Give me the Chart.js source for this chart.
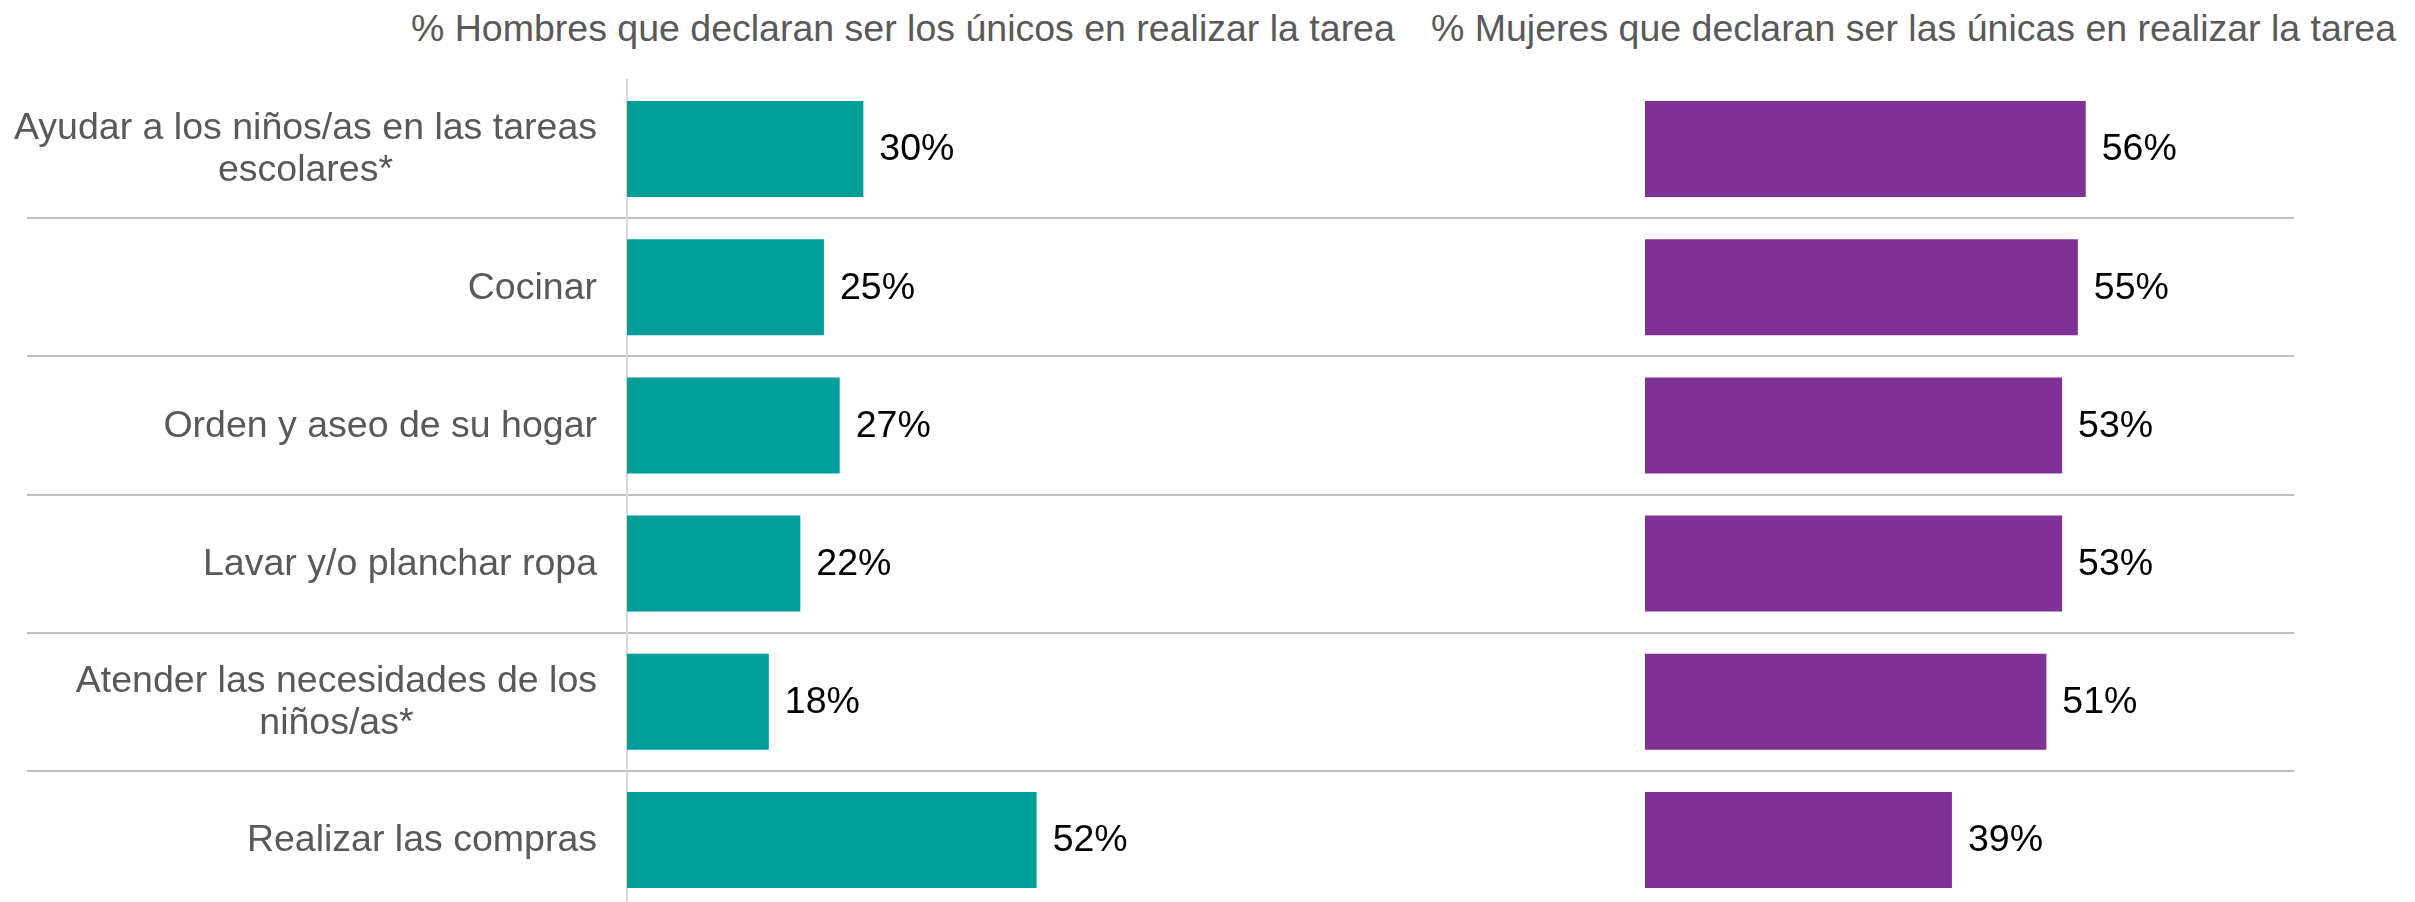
<!DOCTYPE html>
<html lang="es">
<head>
  <meta charset="UTF-8">
  <title>Tareas del hogar realizadas en solitario</title>
  <script src="https://cdn.jsdelivr.net/npm/chart.js"></script>
  <style>
    body {
      margin: 0;
      background: #ffffff;
      overflow: hidden;
      font-family: 'Liberation Sans', Arial, sans-serif;
    }

    .wrap {
      position: relative;
      width: 2415px;
      height: 910px;
    }

    .title {
      position: absolute;
      top: 7px;
      font-size: 37.5px;
      line-height: 42px;
      color: #595959;
      white-space: nowrap;
    }

    canvas {
      position: absolute;
      top: 0;
    }
  </style>
</head>
<body>

  <div class="wrap">
    <div class="title" id="titleMen" style="left: 411px;"></div>
    <div class="title" id="titleWomen" style="left: 1431px;"></div>
    <canvas id="menChart" width="1645" height="910" style="left: 0;"></canvas>
    <canvas id="womenChart" width="770" height="910" style="left: 1645px;"></canvas>
  </div>

  <script>
    const categories = [
      ['Ayudar a los niños/as en las tareas', 'escolares*'],
      'Cocinar',
      'Orden y aseo de su hogar',
      'Lavar y/o planchar ropa',
      ['Atender las necesidades de los', 'niños/as*'],
      'Realizar las compras'
    ];

    const menValues = [30, 25, 27, 22, 18, 52];
    const womenValues = [56, 55, 53, 53, 51, 39];

    const menTitle = '% Hombres que declaran ser los únicos en realizar la tarea';
    const womenTitle = '% Mujeres que declaran ser las únicas en realizar la tarea';

    document.getElementById('titleMen').textContent = menTitle;
    document.getElementById('titleWomen').textContent = womenTitle;

    const FONT = "'Liberation Sans', Arial, sans-serif";
    const sepColor = ctx => ctx.index === 0 ? 'rgba(0,0,0,0)' : '#bfbfbf';

    // value labels just past the end of each bar
    const valueLabels = {
      id: 'valueLabels',
      afterDatasetsDraw(chart) {
        const c = chart.ctx;
        const meta = chart.getDatasetMeta(0);
        const values = chart.data.datasets[0].data;
        c.save();
        c.font = '37.5px ' + FONT;
        c.fillStyle = '#000000';
        c.textAlign = 'left';
        c.textBaseline = 'middle';
        meta.data.forEach((bar, i) => {
          c.fillText(values[i] + '%', bar.x + 16, bar.y + 1);
        });
        c.restore();
      }
    };

    // category labels: block right-aligned, lines centred inside the block
    const categoryLabels = {
      id: 'categoryLabels',
      afterDraw(chart) {
        const c = chart.ctx;
        const yScale = chart.scales.y;
        c.save();
        c.font = '37.5px ' + FONT;
        c.fillStyle = '#595959';
        c.textAlign = 'center';
        c.textBaseline = 'middle';
        chart.data.labels.forEach((label, i) => {
          const lines = Array.isArray(label) ? label : [label];
          const maxW = Math.max(...lines.map(l => c.measureText(l).width));
          const cx = 597 - maxW / 2;
          const y = yScale.getPixelForValue(i);
          lines.forEach((line, j) => {
            c.fillText(line, cx, y + 1 + (j - (lines.length - 1) / 2) * 42);
          });
        });
        c.restore();
      }
    };

    function baseOptions(xMax, leftPad, rightPad, withAxis) {
      return {
        indexAxis: 'y',
        responsive: false,
        animation: false,
        layout: { padding: { top: 80, bottom: 1, left: leftPad, right: rightPad } },
        plugins: {
          legend: { display: false },
          tooltip: { enabled: false }
        },
        scales: {
          x: { display: false, min: 0, max: xMax },
          y: {
            offset: true,
            grid: {
              offset: true,
              drawTicks: withAxis,
              tickLength: withAxis ? 600 : 0,
              color: sepColor,
              tickColor: sepColor,
              lineWidth: 2,
              tickWidth: 2
            },
            border: { display: withAxis, color: '#d9d9d9', width: 2 },
            ticks: { display: false }
          }
        }
      };
    }

    new Chart(document.getElementById('menChart'), {
      type: 'bar',
      data: {
        labels: categories,
        datasets: [{
          data: menValues,
          backgroundColor: '#009e9b',
          barPercentage: 0.695,
          categoryPercentage: 1
        }]
      },
      options: baseOptions(1017 / 7.87, 27, 0, true),
      plugins: [valueLabels, categoryLabels]
    });

    new Chart(document.getElementById('womenChart'), {
      type: 'bar',
      data: {
        labels: categories,
        datasets: [{
          data: womenValues,
          backgroundColor: '#7f3196',
          barPercentage: 0.695,
          categoryPercentage: 1
        }]
      },
      options: baseOptions(649 / 7.87, 0, 121, false),
      plugins: [valueLabels]
    });
  </script>
</body>
</html>
